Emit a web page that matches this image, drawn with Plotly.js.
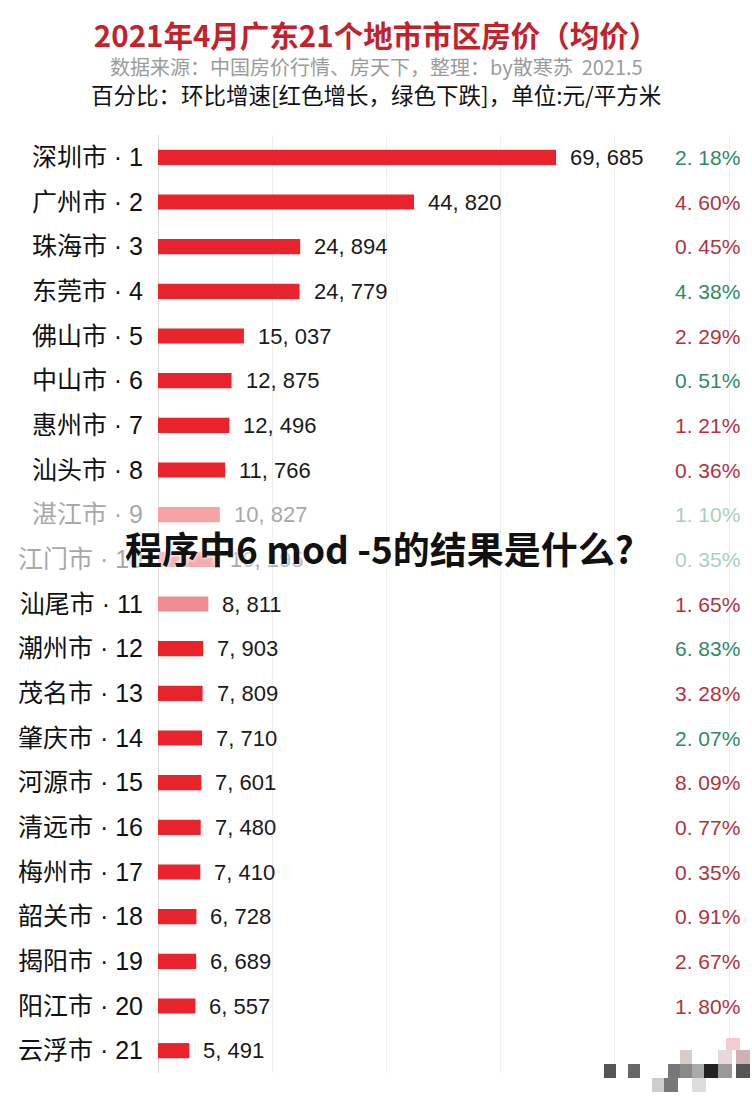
<!DOCTYPE html>
<html><head><meta charset="utf-8">
<script src="https://cdn.plot.ly/plotly-3.0.1.min.js"></script>
<style>html,body{margin:0;padding:0;background:#fff;}#chart{width:752px;height:1098px;}</style>
</head><body><div id="chart"></div>
<script>
// ---- data ----
const cities = ["深圳市","广州市","珠海市","东莞市","佛山市","中山市","惠州市","汕头市","湛江市","江门市","汕尾市","潮州市","茂名市","肇庆市","河源市","清远市","梅州市","韶关市","揭阳市","阳江市","云浮市"];
const ranks = [1,2,3,4,5,6,7,8,9,10,11,12,13,14,15,16,17,18,19,20,21];
const prices = [69685,44820,24894,24779,15037,12875,12496,11766,10827,10195,8811,7903,7809,7710,7601,7480,7410,6728,6689,6557,5491];
// month-on-month change, %, negative = decline (green), positive = growth (red)
const changes = [-2.18,4.60,0.45,-4.38,2.29,-0.51,1.21,0.36,-1.10,-0.35,1.65,-6.83,3.28,-2.07,8.09,0.77,0.35,0.91,2.67,1.80,null];

const cats = cities.map((c,i)=>c+" · "+ranks[i]);
const fmtNum = v => v.toLocaleString("en-US").replace(",", ", ");
const fmtPct = v => Math.abs(v).toFixed(2).replace(".", ". ") + "%";

const barColors = ranks.map(r => r===9 ? "#f5a3a7" : r===10 ? "#f4aaae" : r===11 ? "#ee8c92" : "#e8232b");
const tickText = cats.map((c,i)=> (ranks[i]===9||ranks[i]===10) ? '<span style="color:#a8a8a8">'+c+'</span>' : c);

const trace = {
  type:"bar", orientation:"h", x:prices, y:cats,
  marker:{color:barColors, line:{width:0}},
  width:0.34, hoverinfo:"none"
};

const ann = [];
prices.forEach((v,i)=>{
  const faded = ranks[i]===9||ranks[i]===10;
  ann.push({x:v, y:cats[i], xref:"x", yref:"y", text:fmtNum(v), showarrow:false,
    xanchor:"left", yanchor:"middle", xshift:12,
    font:{family:"Liberation Sans, Arial, sans-serif", size:22, color: faded?"#a8a8a8":"#1a1a1a"}});
  if (changes[i]!==null){
    const up = changes[i] >= 0;
    let col = up ? "#b3323c" : "#2f8a66";
    if (faded) col = up ? "#e3b3b6" : "#a9cfc0";
    ann.push({x:1, y:cats[i], xref:"paper", yref:"y", text:fmtPct(changes[i]), showarrow:false,
      xanchor:"right", yanchor:"middle", xshift:-10,
      font:{family:"Liberation Sans, Arial, sans-serif", size:21, color:col}});
  }
});

// header lines (paper coords computed from plot area: top 135, bottom 1073)
const py = y => (1073 - y) / 938;
const px = x => (x - 158) / 594;
ann.push({x:px(376), y:py(67), xref:"paper", yref:"paper", showarrow:false, xanchor:"center", yanchor:"middle",
  text:"数据来源：中国房价行情、房天下，整理：by散寒苏  2021.5",
  font:{family:"Noto Sans CJK SC, sans-serif", size:20, color:"#9b9b9b"}});
ann.push({x:px(376), y:py(94), xref:"paper", yref:"paper", showarrow:false, xanchor:"center", yanchor:"middle",
  text:"百分比：环比增速[红色增长，绿色下跌]，单位:元/平方米",
  font:{family:"Noto Sans CJK SC, sans-serif", size:22.5, color:"#111"}});
ann.push({x:px(379), y:py(548), xref:"paper", yref:"paper", showarrow:false, xanchor:"center", yanchor:"middle",
  text:"<b>程序中6 mod -5的结果是什么?</b>",
  font:{family:"Noto Sans CJK SC, sans-serif", size:37, color:"#111", shadow:"0 0 3px #fff, 0 0 5px #fff"}});

// pixelated mosaic bottom-right
const mosaic = [
  [604,1064,616,1078,"#555"],[628,1064,640,1078,"#666"],[668,1064,680,1078,"#777"],[680,1064,692,1078,"#8a8a8a"],
  [692,1064,704,1078,"#aaa"],[704,1064,718,1078,"#222"],[718,1064,732,1078,"#999"],[736,1064,750,1078,"#555"],
  [652,1078,664,1092,"#ccc"],[664,1078,678,1092,"#777"],[692,1078,706,1092,"#ddd"],
  [680,1050,692,1064,"#d8ccc8"],[718,1050,732,1064,"#e8d8da"],[736,1050,750,1064,"#d0b0b4"],[726,1038,740,1050,"#f4cbd0"]
];
const shapes = mosaic.map(m=>({type:"rect", xref:"paper", yref:"paper", x0:px(m[0]), x1:px(m[2]), y0:py(m[3]), y1:py(m[1]),
  fillcolor:m[4], line:{width:0}, layer:"above"}));

const layout = {
  width:752, height:1098,
  margin:{l:158, r:0, t:135, b:25, pad:0},
  paper_bgcolor:"#fff", plot_bgcolor:"#fff",
  showlegend:false,
  title:{text:"<b>2021年4月广东21个地市市区房价（均价）</b>", x:0.5, xref:"container", xanchor:"center",
    y:1-37/1098, yref:"container", yanchor:"middle",
    font:{family:"Noto Sans CJK SC, sans-serif", size:29.5, color:"#c3222b"}},
  xaxis:{range:[0,104000], dtick:20000, tick0:0, showticklabels:false, showgrid:true, gridcolor:"#efefef", gridwidth:1,
    zeroline:true, zerolinecolor:"#dcdcdc", zerolinewidth:1, fixedrange:true},
  yaxis:{type:"category", categoryorder:"array", categoryarray:cats, autorange:"reversed",
    tickvals:cats, ticktext:tickText, ticks:"", showgrid:false, ticklabelstandoff:14,
    tickfont:{family:"Liberation Sans, Noto Sans CJK SC, sans-serif", size:25, color:"#111"}, fixedrange:true},
  annotations:ann, shapes:shapes
};
Plotly.newPlot("chart",[trace],layout,{displayModeBar:false, staticPlot:true});
</script></body></html>
